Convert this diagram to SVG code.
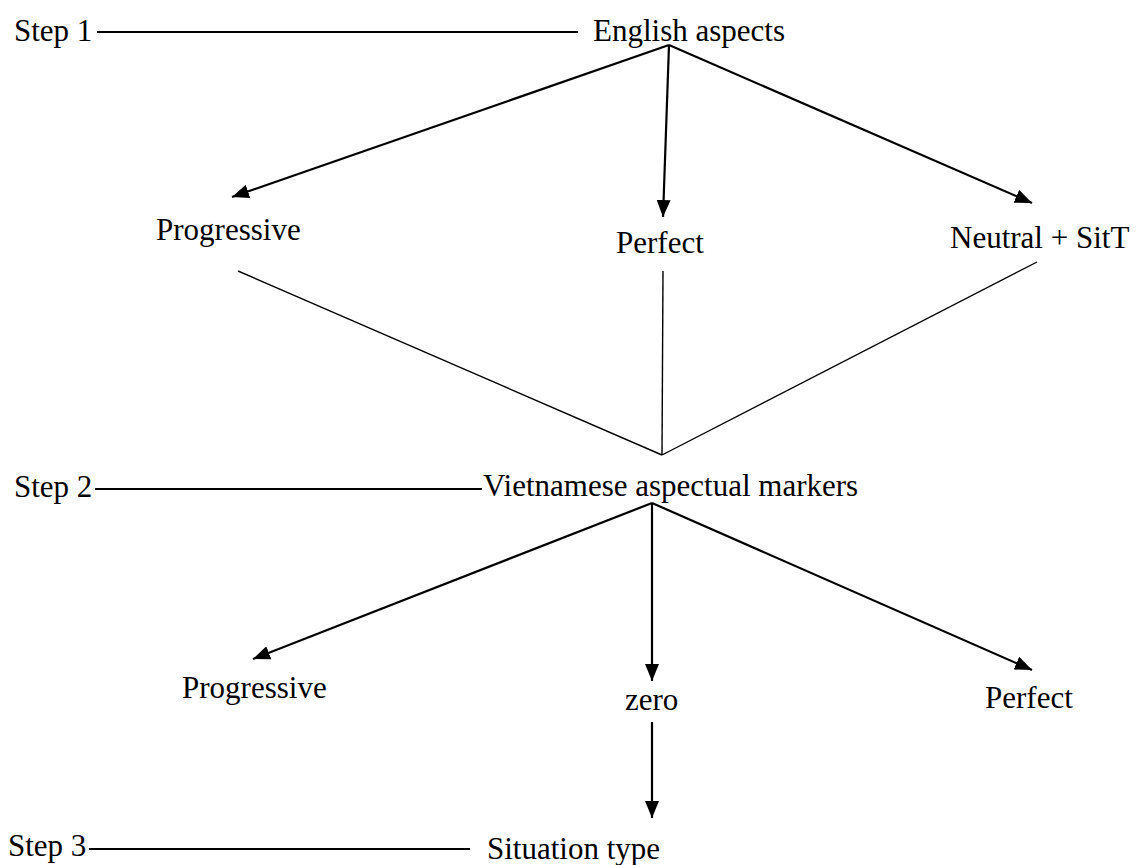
<svg xmlns="http://www.w3.org/2000/svg" width="1138" height="865" viewBox="0 0 1138 865">
<style>
text{font-family:"Liberation Serif","Times New Roman",serif;font-size:31px;fill:#000}
.arr{stroke:#000;stroke-width:2.2;fill:none;marker-end:url(#ah)}
.ln{stroke:#000;stroke-width:1.4;fill:none}
.step{stroke:#000;stroke-width:2;fill:none}
</style>
<defs>
<marker id="ah" markerUnits="userSpaceOnUse" markerWidth="18" markerHeight="14" refX="17" refY="7" orient="auto">
<path d="M0,0 L17,7 L0,14 Z" fill="#000"/>
</marker>
</defs>
<g id="step1"><text x="14" y="41">Step 1</text></g>
<g id="english-aspects"><text x="593" y="41">English aspects</text></g>
<g id="progressive-en"><text x="156" y="240">Progressive</text></g>
<g id="perfect-en"><text x="616" y="253">Perfect</text></g>
<g id="neutral-sitt"><text x="950" y="248">Neutral + SitT</text></g>
<g id="step2"><text x="14" y="497">Step 2</text></g>
<g id="vietnamese-markers"><text x="483" y="496">Vietnamese aspectual markers</text></g>
<g id="progressive-vi"><text x="182" y="698">Progressive</text></g>
<g id="zero"><text x="625" y="710">zero</text></g>
<g id="perfect-vi"><text x="985" y="708">Perfect</text></g>
<g id="step3"><text x="8" y="856">Step 3</text></g>
<g id="situation-type"><text x="487" y="859">Situation type</text></g>
<g id="connectors">
<line class="step" x1="97" y1="32" x2="578" y2="32"/>
<line class="step" x1="95" y1="489" x2="482" y2="489"/>
<line class="step" x1="89" y1="849" x2="470" y2="849"/>
<line class="arr" x1="669" y1="45" x2="232" y2="197"/>
<line class="arr" x1="669" y1="45" x2="663" y2="217"/>
<line class="arr" x1="669" y1="45" x2="1032" y2="203"/>
<line class="ln" x1="238" y1="271" x2="662" y2="455"/>
<line class="ln" x1="663" y1="271" x2="662" y2="455"/>
<line class="ln" x1="1037" y1="262" x2="662" y2="455"/>
<line class="arr" x1="652" y1="503" x2="253" y2="659"/>
<line class="arr" x1="652" y1="503" x2="652" y2="681"/>
<line class="arr" x1="652" y1="503" x2="1032" y2="670"/>
<line class="arr" x1="652" y1="722" x2="652" y2="818"/>
</g>
</svg>
